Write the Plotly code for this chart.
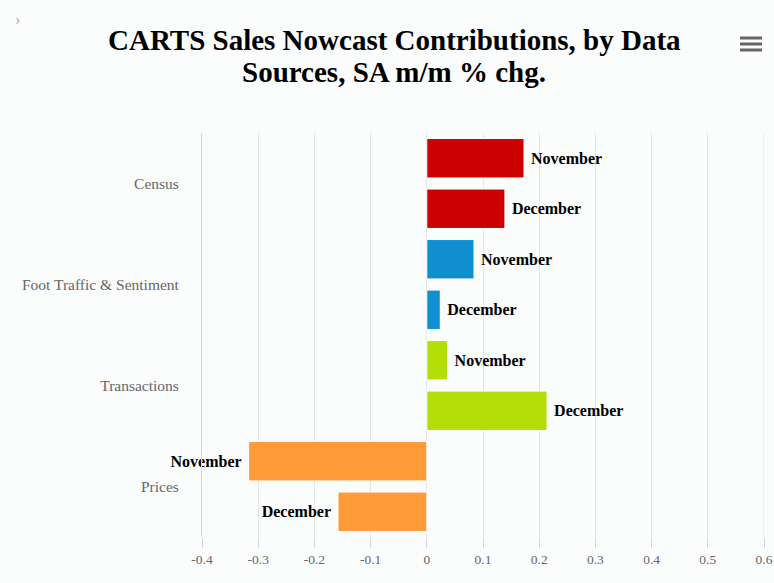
import plotly.graph_objects as go

categories = ["Census", "Foot Traffic & Sentiment", "Transactions", "Prices"]
november = [0.173, 0.084, 0.037, -0.317]
december = [0.139, 0.024, 0.214, -0.158]
colors = ["#cc0000", "#0f8fcf", "#b3de0a", "#ff9a38"]
xticks = [-0.4, -0.3, -0.2, -0.1, 0, 0.1, 0.2, 0.3, 0.4, 0.5, 0.6]
title_lines = ["CARTS Sales Nowcast Contributions, by Data", "Sources, SA m/m % chg."]

W, H = 774, 583
L, R, T, B = 202, 10, 133, 46
PW = W - L - R
PH = H - T - B

FONT = "Liberation Serif"
NB = "\u00a0"
BG = "#fbfcfc"
GRID = "#e6e6e6"

def pad(name, vals):
    return [(NB + name) if v >= 0 else (name + NB) for v in vals]

def px(xp):
    return (xp - L) / PW

def py(yp):
    return (H - B - yp) / PH

fig = go.Figure()
for name, vals in (("November", november), ("December", december)):
    fig.add_trace(go.Bar(
        y=categories, x=vals, orientation="h", name=name,
        marker=dict(color=colors, line=dict(color="white", width=1)),
        text=pad(name, vals), textposition="outside", cliponaxis=False,
        textfont=dict(family=FONT, size=16, color="#000000"),
        texttemplate="<b>%{text}</b>", hoverinfo="x+y",
    ))

fig.update_layout(
    width=W, height=H,
    margin=dict(l=L, r=R, t=T, b=B, autoexpand=False),
    paper_bgcolor=BG, plot_bgcolor=BG,
    barmode="group", bargap=0, bargroupgap=0.22,
    showlegend=False,
    font=dict(family=FONT, color="#666666"),
    xaxis=dict(
        range=[xticks[0], xticks[-1]], tickvals=xticks,
        ticktext=[("%g" % v) for v in xticks],
        showgrid=True, gridcolor=GRID, gridwidth=1,
        zeroline=False, ticks="outside", ticklen=10, tickcolor="#ccd6eb",
        tickfont=dict(family=FONT, size=13.5, color="#666666"),
        ticklabeloverflow="allow", automargin=False,
        showline=False, fixedrange=True,
    ),
    yaxis=dict(
        autorange="reversed", showgrid=False, zeroline=False,
        showline=True, linecolor="#ccd6eb", linewidth=1,
        ticks="", ticklabelstandoff=19, automargin=False,
        tickfont=dict(family=FONT, size=15.5, color="#666666"),
        fixedrange=True,
    ),
)

# gridline at the right edge of the value axis
fig.add_shape(type="line", xref="x", yref="paper", x0=xticks[-1], x1=xticks[-1],
              y0=0, y1=1, layer="below", line=dict(color=GRID, width=1))

# title as two centred lines
for text, yc in zip(title_lines, (40, 72)):
    fig.add_annotation(text="<b>%s</b>" % text, xref="paper", yref="paper",
                       x=px(394), y=py(yc), xanchor="center", yanchor="middle",
                       showarrow=False,
                       font=dict(family=FONT, size=29, color="#000000"))

# decorative menu icon and collapse chevron
for yy in (38, 44, 50):
    fig.add_shape(type="line", xref="paper", yref="paper",
                  x0=px(740), x1=px(762), y0=py(yy), y1=py(yy),
                  line=dict(color="#666666", width=3))
fig.add_annotation(text="›", xref="paper", yref="paper",
                   x=px(13), y=py(9), showarrow=False,
                   font=dict(family=FONT, size=16, color="#aaaaaa"))

fig.write_html(
    "out.html",
    config={"displayModeBar": False},
    post_script=(
        "document.body.style.margin='0';"
        "document.body.style.overflow='hidden';"
        "document.documentElement.style.overflow='hidden';"
        "document.body.style.background='%s';" % BG
    ),
)
